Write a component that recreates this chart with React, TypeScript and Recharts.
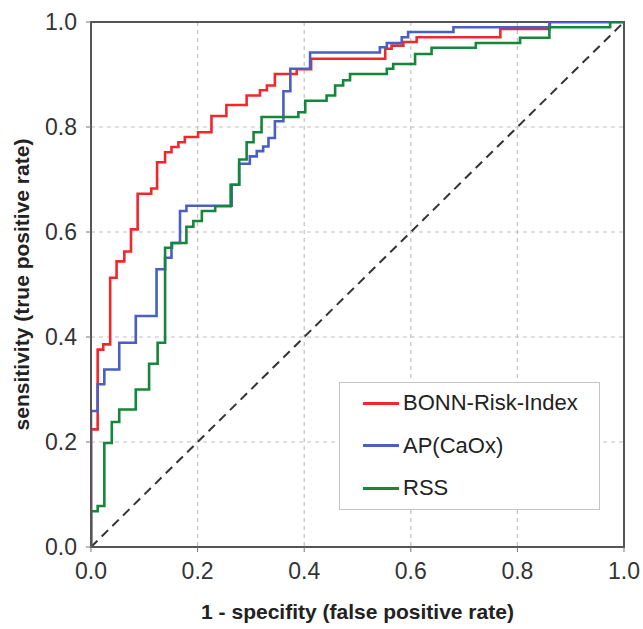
import React from "react";
import {
  LineChart,
  Line,
  XAxis,
  YAxis,
  CartesianGrid,
  ReferenceLine,
  ReferenceArea,
  Legend,
  Label,
} from "recharts";

const FONT = "'Liberation Sans', Arial, Helvetica, sans-serif";

const seriesNames = ["BONN-Risk-Index", "AP(CaOx)", "RSS"];
const seriesColors = ["#f0282d", "#4a5fc4", "#14873a"];
const axisTicks = [0, 0.2, 0.4, 0.6, 0.8, 1.0];

const redFpr = [0, 0, 0.0125, 0.023, 0.036, 0.048, 0.0625, 0.075, 0.0875, 0.113, 0.124, 0.139, 0.151, 0.164, 0.176, 0.201, 0.226, 0.254, 0.292, 0.317, 0.33, 0.345, 0.386, 0.413, 0.552, 0.564, 0.586, 0.611, 0.768, 0.86, 1.0];
const redTpr = [0, 0.224, 0.376, 0.386, 0.513, 0.544, 0.563, 0.605, 0.673, 0.683, 0.733, 0.752, 0.762, 0.771, 0.781, 0.79, 0.821, 0.842, 0.86, 0.87, 0.879, 0.901, 0.91, 0.93, 0.949, 0.955, 0.962, 0.971, 0.987, 1.0, 1.0];

const blueFpr = [0, 0, 0.0125, 0.025, 0.053, 0.084, 0.123, 0.139, 0.151, 0.167, 0.179, 0.264, 0.278, 0.298, 0.311, 0.323, 0.333, 0.345, 0.361, 0.374, 0.411, 0.542, 0.555, 0.583, 0.595, 0.68, 0.861, 1.0];
const blueTpr = [0, 0.259, 0.31, 0.338, 0.389, 0.44, 0.529, 0.551, 0.579, 0.64, 0.65, 0.69, 0.73, 0.744, 0.754, 0.763, 0.779, 0.811, 0.868, 0.911, 0.942, 0.952, 0.96, 0.971, 0.981, 0.99, 1.0, 1.0];

const greenFpr = [0, 0, 0.0125, 0.025, 0.039, 0.053, 0.084, 0.109, 0.125, 0.139, 0.152, 0.179, 0.192, 0.208, 0.233, 0.262, 0.278, 0.292, 0.305, 0.32, 0.389, 0.402, 0.442, 0.458, 0.473, 0.486, 0.555, 0.567, 0.608, 0.639, 0.722, 0.805, 0.86, 0.974, 1.0];
const greenTpr = [0, 0.068, 0.078, 0.198, 0.238, 0.262, 0.3, 0.349, 0.389, 0.57, 0.579, 0.61, 0.621, 0.64, 0.649, 0.69, 0.738, 0.771, 0.79, 0.819, 0.828, 0.85, 0.86, 0.879, 0.889, 0.901, 0.911, 0.92, 0.939, 0.951, 0.96, 0.97, 0.99, 1.0, 1.0];

const toPoints = (xs: number[], ys: number[]) =>
  xs.map((x, i) => ({ fpr: x, tpr: ys[i] }));

const seriesData = [
  toPoints(redFpr, redTpr),
  toPoints(blueFpr, blueTpr),
  toPoints(greenFpr, greenTpr),
];

const LegendBox = (props: any) => {
  const payload = (props && props.payload) || [];
  const items = seriesNames.map((n, i) => {
    const p = payload.find((q: any) => q.value === n);
    return { name: n, color: p ? p.color : seriesColors[i] };
  });
  return (
    <div
      style={{
        position: "relative",
        width: 261,
        height: 128,
        boxSizing: "border-box",
        border: "1px solid #c4c4c4",
        background: "#fff",
        fontFamily: FONT,
        fontSize: 22,
        color: "#222",
      }}
    >
      {items.map((it, i) => (
        <div
          key={it.name}
          style={{
            position: "absolute",
            left: 23,
            top: 20 + i * 42.5 - 14,
            height: 28,
            display: "flex",
            alignItems: "center",
            whiteSpace: "nowrap",
          }}
        >
          <span
            style={{
              display: "inline-block",
              width: 36,
              height: 3,
              background: it.color,
              marginRight: 4,
            }}
          />
          <span>{it.name}</span>
        </div>
      ))}
    </div>
  );
};

const YTitle = (props: any) => {
  const vb = props.viewBox || {};
  const cx = 21;
  const cy = (vb.y || 0) + (vb.height || 0) / 2;
  return (
    <text
      x={cx}
      y={cy}
      transform={`rotate(-90, ${cx}, ${cy})`}
      textAnchor="middle"
      dominantBaseline="central"
      fontFamily={FONT}
      fontSize={21}
      fontWeight="bold"
      fill="#222"
    >
      sensitivity (true positive rate)
    </text>
  );
};

const XTitle = (props: any) => {
  const vb = props.viewBox || {};
  const cx = (vb.x || 0) + (vb.width || 0) / 2;
  const cy = 611;
  return (
    <text
      x={cx}
      y={cy}
      textAnchor="middle"
      dominantBaseline="central"
      fontFamily={FONT}
      fontSize={21}
      fontWeight="bold"
      fill="#222"
    >
      1 - specifity (false positive rate)
    </text>
  );
};

export default function App() {
  return (
    <div style={{ width: 643, height: 629, background: "#fff" }}>
      <style>{"html, body { margin: 0; padding: 0; background: #fff; overflow: hidden; }"}</style>
      <LineChart
        width={643}
        height={629}
        margin={{ top: 22, right: 19, left: 0, bottom: 0 }}
      >
        <CartesianGrid
          stroke="#c0c0c0"
          strokeDasharray="4 4"
          strokeWidth={1.2}
        />
        <XAxis
          type="number"
          dataKey="fpr"
          domain={[0, 1]}
          ticks={axisTicks}
          allowDataOverflow
          height={82}
          tickFormatter={(v: number) => v.toFixed(1)}
          tick={{ fontFamily: FONT, fontSize: 23, fill: "#333" }}
          tickSize={5}
          tickMargin={11}
          axisLine={{ stroke: "#555", strokeWidth: 2 }}
          tickLine={{ stroke: "#777" }}
        >
          <Label content={<XTitle />} />
        </XAxis>
        <YAxis
          type="number"
          domain={[0, 1]}
          ticks={axisTicks}
          allowDataOverflow
          width={91}
          tickFormatter={(v: number) => v.toFixed(1)}
          tick={{ fontFamily: FONT, fontSize: 23, fill: "#333" }}
          tickSize={5}
          tickMargin={9}
          axisLine={{ stroke: "#555", strokeWidth: 2 }}
          tickLine={{ stroke: "#777" }}
        >
          <Label content={<YTitle />} />
        </YAxis>
        <ReferenceLine
          segment={[
            { x: 0, y: 0 },
            { x: 1, y: 1 },
          ]}
          stroke="#333"
          strokeWidth={2}
          strokeDasharray="9 6"
          ifOverflow="visible"
        />
        {seriesNames.map((name, i) => (
          <Line
            key={name}
            name={name}
            data={seriesData[i]}
            dataKey="tpr"
            type="stepAfter"
            stroke={seriesColors[i]}
            strokeWidth={2.6}
            dot={false}
            activeDot={false}
            isAnimationActive={false}
          />
        ))}
        <ReferenceArea
          x1={0}
          x2={1}
          y1={0}
          y2={1}
          fill="none"
          fillOpacity={0}
          stroke="#555"
          strokeWidth={2}
          ifOverflow="visible"
        />
        <Legend
          layout="vertical"
          align="center"
          verticalAlign="middle"
          content={<LegendBox />}
          wrapperStyle={{ left: 339, top: 382, width: 261, height: 128 }}
        />
      </LineChart>
    </div>
  );
}
